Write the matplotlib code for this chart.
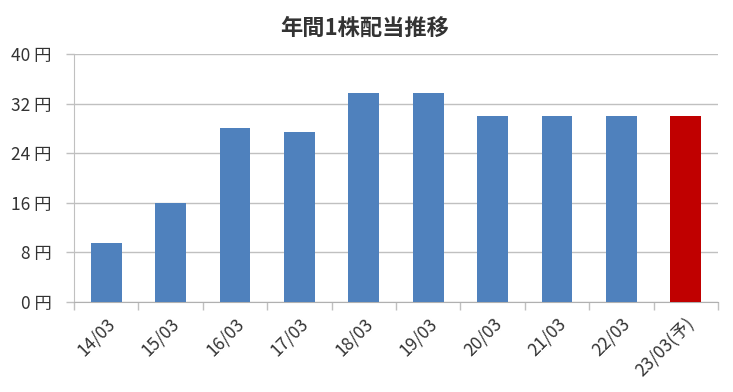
import numpy as np
import matplotlib.pyplot as plt

plt.rcParams['font.family'] = ['Noto Sans CJK JP', 'DejaVu Sans']

# data
years = ['14/03', '15/03', '16/03', '17/03', '18/03', '19/03', '20/03', '21/03', '22/03', '23/03(予)']
dividend = [9.5, 16, 28, 27.5, 33.75, 33.75, 30, 30, 30, 30]
forecast = [False] * 9 + [True]
y_ticks = [0, 8, 16, 24, 32, 40]

blue = '#4f81bd'
red = '#c00000'
colors = [red if f else blue for f in forecast]

fig = plt.figure(figsize=(7.33, 3.92), dpi=100)
ax = fig.add_axes([74 / 733, 90 / 392, 644 / 733, 248 / 392])

x = np.arange(len(years))
ax.bar(x, dividend, width=0.48, color=colors, zorder=3)

ax.set_xlim(-0.5, len(years) - 0.5)
ax.set_ylim(0, 40)
ax.set_yticks(y_ticks)
ax.set_yticklabels([f'{v} 円' for v in y_ticks], fontsize=12.5, color='#333333')
ax.grid(True, axis='y', color='#c0c0c0', linewidth=1, zorder=0)

# category boundary ticks on x axis
ax.set_xticks(np.arange(len(years) + 1) - 0.5)
ax.set_xticklabels([])
ax.tick_params(axis='x', length=6, color='#c0c0c0', width=1)
ax.tick_params(axis='y', length=6, color='#c0c0c0', width=1, pad=10)
ax.set_xticks(x, minor=True)
ax.set_xticklabels(years, minor=True, rotation=45, ha='right', va='top',
                   rotation_mode='anchor', fontsize=12.5, color='#333333')
ax.tick_params(axis='x', which='minor', length=0, pad=9)

for side in ['top', 'right']:
    ax.spines[side].set_visible(False)
ax.spines['left'].set_color('#c0c0c0')
ax.spines['bottom'].set_color('#b0b0b0')

fig.text(365 / 733, 1 - 28 / 392, '年間1株配当推移', ha='center', va='center',
         fontsize=16, fontweight='bold', color='#333333')

plt.savefig('out.png', dpi=100)
